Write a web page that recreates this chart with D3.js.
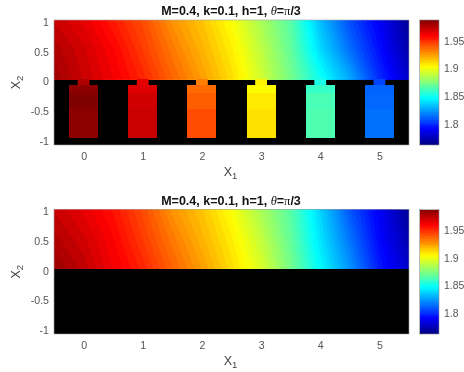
<!DOCTYPE html>
<html><head><meta charset="utf-8">
<script src="https://cdnjs.cloudflare.com/ajax/libs/d3/7.8.5/d3.min.js"></script>
<style>
html,body{margin:0;padding:0;background:#fff}
svg{display:block;filter:blur(0.4px)}
text{font-family:"Liberation Sans",Arial,sans-serif}
</style></head><body>
<script>
const gridX = [-0.5,0,0.5,1,1.5,2,2.5,3,3.5,4,4.5,5,5.5];
const gridY = [1,0.5,0];
const topField = [
 1.970,1.963,1.952,1.941,1.925,1.914,1.900,1.882,1.864,1.830,1.805,1.786,1.765,
 1.975,1.968,1.958,1.945,1.931,1.918,1.905,1.887,1.867,1.837,1.813,1.791,1.769,
 1.979,1.970,1.961,1.950,1.936,1.923,1.909,1.891,1.871,1.848,1.826,1.798,1.776
];
const bottomField = [
 1.970,1.963,1.954,1.941,1.925,1.914,1.900,1.882,1.864,1.835,1.807,1.786,1.765,
 1.975,1.968,1.958,1.945,1.931,1.918,1.905,1.888,1.867,1.839,1.814,1.789,1.770,
 1.980,1.972,1.961,1.950,1.936,1.923,1.909,1.893,1.871,1.844,1.821,1.794,1.776
];
const cavityCentres = [0,1,2,3,4,5];
const neckValues = [1.975,1.963,1.930,1.904,1.850,1.803];
const cavityValues = [
 [1.983,1.986,1.983],
 [1.965,1.968,1.970],
 [1.934,1.937,1.941],
 [1.902,1.906,1.908],
 [1.857,1.861,1.862],
 [1.810,1.811,1.813]
];
const cavityEdges = [-0.1,-0.22,-0.5,-0.98];
const neckHalfWidth = 0.1, cavityHalfWidth = 0.245;
const xTicks = [0,1,2,3,4,5];
const yTicks = [-1,-0.5,0,0.5,1];
const yTickLabels = ["-1","-0.5","0","0.5","1"];
const cbTicks = [1.8,1.85,1.9,1.95];
const cbTickLabels = ["1.8","1.85","1.9","1.95"];
const xDomain = [-0.5,5.5], yDomain = [-1.1,1], cDomain = [1.76,1.986];
const jetStops = [0,0.125,0.375,0.625,0.875,1];
const jetColors = ["#000080","#0000ff","#00ffff","#ffff00","#ff0000","#800000"];
const contourLevels = 72, colorbarLevels = 64;

const W=464,H=372;
const svg=d3.select("body").append("svg").attr("width",W).attr("height",H);
const jet=d3.scaleLinear().domain(jetStops.map(t=>cDomain[0]+t*(cDomain[1]-cDomain[0]))).range(jetColors).clamp(true);
const levels=d3.range(contourLevels).map(i=>cDomain[0]+i*(cDomain[1]-cDomain[0])/contourLevels);
const bandStep=(cDomain[1]-cDomain[0])/contourLevels;

function panel(id,top,bottom,values,withCavities,labelY,titleY){
  const L=54,R=409;
  const x=d3.scaleLinear().domain(xDomain).range([L,R]);
  const y=d3.scaleLinear().domain(yDomain).range([bottom,top]);
  const g=svg.append("g");
  g.append("clipPath").attr("id",id).append("rect").attr("x",L).attr("y",top).attr("width",R-L).attr("height",y(0)-top);
  g.append("rect").attr("x",L).attr("y",y(0)).attr("width",R-L).attr("height",bottom-y(0)).attr("fill","#000");
  const dx=gridX[1]-gridX[0], dy=gridY[1]-gridY[0];
  const tr=d3.geoTransform({point(a,b){this.stream.point(x(gridX[0]+(a-0.5)*dx),y(gridY[0]+(b-0.5)*dy));}});
  const path=d3.geoPath(tr);
  const contours=d3.contours().size([gridX.length,gridY.length]).thresholds(levels)(values);
  const fg=g.append("g").attr("clip-path",`url(#${id})`);
  fg.append("rect").attr("x",L).attr("y",top).attr("width",R-L).attr("height",y(0)-top).attr("fill",jet(cDomain[0]));
  fg.selectAll("path").data(contours).join("path").attr("d",path)
    .attr("fill",d=>jet(d.value+bandStep/2)).attr("stroke",d=>jet(d.value+bandStep/2)).attr("stroke-width",0.3);
  if(withCavities){
    cavityCentres.forEach((c,i)=>{
      g.append("rect").attr("x",x(c-neckHalfWidth)).attr("y",y(0)-0.5)
        .attr("width",x(c+neckHalfWidth)-x(c-neckHalfWidth)).attr("height",y(cavityEdges[0])-y(0)+1.5)
        .attr("fill",jet(neckValues[i]));
      const cg=g.append("g").attr("shape-rendering","crispEdges");
      cavityValues[i].forEach((v,j)=>{
        cg.append("rect").attr("x",x(c-cavityHalfWidth)).attr("y",y(cavityEdges[j]))
          .attr("width",x(c+cavityHalfWidth)-x(c-cavityHalfWidth)).attr("height",y(cavityEdges[j+1])-y(cavityEdges[j])+(j<2?1:0))
          .attr("fill",jet(v));
      });
    });
  }
  const ax=g.append("g").attr("transform",`translate(0,${bottom})`)
    .call(d3.axisBottom(x).tickValues(xTicks).tickFormat(d3.format("d")).tickSize(0).tickPadding(7));
  const ay=g.append("g").attr("transform",`translate(${L},0)`)
    .call(d3.axisLeft(y).tickValues(yTicks).tickFormat((d,i)=>yTickLabels[i]).tickSize(0).tickPadding(5));
  [ax,ay].forEach(a=>{a.select(".domain").remove();
    a.selectAll("text").attr("font-size",10.6).attr("fill","#555").style("font-family",'"Liberation Sans",Arial,sans-serif');});
  ay.selectAll("text").attr("dy","0.5em");
  g.append("rect").attr("x",L).attr("y",top).attr("width",R-L).attr("height",bottom-top)
    .attr("fill","none").attr("stroke","#a0a0a0").attr("stroke-width",0.6);
  const t=g.append("text").attr("x",(L+R)/2-0.5).attr("y",titleY).attr("text-anchor","middle")
    .attr("font-size",12.5).attr("font-weight","bold").attr("fill","#111");
  t.append("tspan").text("M=0.4, k=0.1, h=1, ");
  t.append("tspan").attr("font-style","italic").attr("font-weight","normal").style("font-family",'"Liberation Serif",serif').text("θ");
  t.append("tspan").text("=");
  t.append("tspan").attr("font-weight","normal").style("font-family",'"Liberation Serif",serif').text("π");
  t.append("tspan").text("/3");
  const xl=g.append("text").attr("x",(L+R)/2-1).attr("y",labelY).attr("text-anchor","middle").attr("font-size",12.5).attr("fill","#444");
  xl.append("tspan").text("X");
  xl.append("tspan").attr("dy",3).attr("font-size",9.5).text("1");
  const yl=g.append("text").attr("transform",`translate(20,${(top+bottom)/2+0})rotate(-90)`).attr("text-anchor","middle").attr("font-size",12.5).attr("fill","#444");
  yl.append("tspan").text("X");
  yl.append("tspan").attr("dy",3).attr("font-size",9.5).text("2");
  const CL=419.5,CR=439;
  const cy=d3.scaleLinear().domain(cDomain).range([bottom,top]);
  const cb=d3.range(colorbarLevels).map(i=>cDomain[0]+i*(cDomain[1]-cDomain[0])/colorbarLevels);
  const cs=(cDomain[1]-cDomain[0])/colorbarLevels;
  g.append("g").attr("shape-rendering","crispEdges").selectAll("rect").data(cb.slice().reverse()).join("rect")
    .attr("x",CL).attr("width",CR-CL)
    .attr("y",d=>cy(d+cs)).attr("height",d=>cy(cDomain[0])-cy(d+cs))
    .attr("fill",d=>jet(d+cs/2));
  g.append("rect").attr("x",CL).attr("y",top).attr("width",CR-CL).attr("height",bottom-top)
    .attr("fill","none").attr("stroke","#8a8a8a").attr("stroke-width",0.6);
  const ac=g.append("g").attr("transform",`translate(${CR},0)`)
    .call(d3.axisRight(cy).tickValues(cbTicks).tickFormat((d,i)=>cbTickLabels[i]).tickSize(0).tickPadding(5));
  ac.select(".domain").remove();
  ac.selectAll("text").attr("font-size",10.4).attr("fill","#555").attr("dy","0.4em").style("font-family",'"Liberation Sans",Arial,sans-serif');
}
panel("c1",20,145,topField,true,176,15);
panel("c2",209.5,334,bottomField,false,365,204.5);
</script></body></html>
